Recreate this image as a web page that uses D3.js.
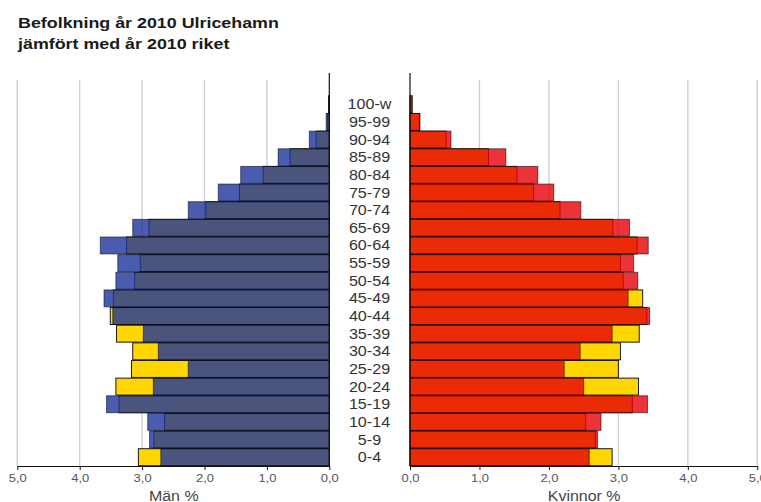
<!DOCTYPE html>
<html>
<head>
<meta charset="utf-8">
<script src="https://cdn.jsdelivr.net/npm/d3@7"></script>
<style>
  html, body { margin: 0; padding: 0; background: #fff; }
  svg { display: block; }
  text { font-family: "Liberation Sans", Arial, sans-serif; }
</style>
</head>
<body>
<svg id="chart" width="761" height="502"></svg>
<script>
// ---- data ----
const titleLines = ["Befolkning år 2010 Ulricehamn", "jämfört med år 2010 riket"];
const ages = ["0-4","5-9","10-14","15-19","20-24","25-29","30-34","35-39","40-44","45-49",
              "50-54","55-59","60-64","65-69","70-74","75-79","80-84","85-89","90-94","95-99","100-w"];
const menUlricehamn   = [2.70,2.88,2.91,3.57,2.82,2.26,2.74,2.98,3.47,3.61,3.42,3.39,3.67,3.15,2.26,1.78,1.42,0.82,0.32,0.05,0.01];
const menRiket        = [3.06,2.81,2.64,3.37,3.42,3.17,3.15,3.41,3.51,3.46,3.12,3.03,3.25,2.89,1.98,1.44,1.06,0.63,0.21,0.03,0.01];
const womenUlricehamn = [2.58,2.70,2.75,3.42,2.50,2.22,2.45,2.91,3.45,3.14,3.28,3.22,3.43,3.16,2.46,2.07,1.84,1.38,0.59,0.14,0.03];
const womenRiket      = [2.91,2.67,2.53,3.20,3.29,3.00,3.03,3.30,3.41,3.35,3.07,3.03,3.27,2.92,2.16,1.78,1.54,1.13,0.52,0.14,0.03];
const tickValues = [0, 1, 2, 3, 4, 5];
const axisTitles = ["Män %", "Kvinnor %"];

// ---- layout ----
const svg = d3.select("#chart");
const axisY = 466;
const xLeft  = d3.scaleLinear().domain([0, 5]).range([329.3, 17.3]);
const xRight = d3.scaleLinear().domain([0, 5]).range([410, 757.3]);
const y = d3.scaleBand().domain(ages).range([axisY, 95.5]).paddingInner(0.04).paddingOuter(0.02);
const fmt = d => d.toFixed(1).replace(".", ",");

function stretch(sel, k) {
  sel.each(function() {
    const w = this.getComputedTextLength();
    d3.select(this).attr("textLength", w * k).attr("lengthAdjust", "spacingAndGlyphs");
  });
}

// gridlines
function grid(x) {
  svg.append("g").selectAll("line").data(tickValues.filter(v => v > 0)).join("line")
    .attr("x1", d => x(d)).attr("x2", d => x(d))
    .attr("y1", 80).attr("y2", axisY)
    .attr("stroke", "#cfcfcf").attr("stroke-width", 1.4);
}
grid(xLeft); grid(xRight);

// bars
function side(x, riket, ulr, fillU, strokeU) {
  const data = ages.map((a, i) => ({ age: a, r: riket[i], u: ulr[i] }));
  const g = svg.append("g");
  g.selectAll("rect.riket").data(data).join("rect").attr("class", "riket")
    .attr("x", d => Math.min(x(0), x(d.r)))
    .attr("width", d => Math.abs(x(d.r) - x(0)))
    .attr("y", d => y(d.age))
    .attr("height", y.bandwidth())
    .attr("fill", "#ffd600")
    .attr("stroke", "#1a1a1a").attr("stroke-width", 1);
  g.selectAll("rect.ulr").data(data).join("rect").attr("class", "ulr")
    .attr("x", d => Math.min(x(0), x(d.u)))
    .attr("width", d => Math.abs(x(d.u) - x(0)))
    .attr("y", d => y(d.age))
    .attr("height", y.bandwidth())
    .attr("fill", fillU)
    .attr("stroke", strokeU).attr("stroke-width", 1);
}
side(xLeft, menRiket, menUlricehamn, "rgba(29,51,156,0.8)", "rgba(0,0,0,0.55)");
side(xRight, womenRiket, womenUlricehamn, "rgba(230,0,8,0.8)", "rgba(0,0,0,0.55)");

// zero lines
[xLeft, xRight].forEach(x => {
  svg.append("line").attr("x1", x(0)).attr("x2", x(0)).attr("y1", 73).attr("y2", axisY)
    .attr("stroke", "#111").attr("stroke-width", 1.2);
});

// axes
function axis(x, title) {
  const g = svg.append("g").attr("transform", `translate(0,${axisY})`)
    .call(d3.axisBottom(x).tickValues(tickValues).tickFormat(fmt).tickSize(4).tickSizeOuter(0));
  g.select(".domain").attr("stroke", "#111").attr("stroke-width", 1.2);
  g.selectAll(".tick line").attr("stroke", "#111");
  const t = g.selectAll(".tick text").attr("font-size", 11).attr("fill", "#555").attr("dy", null).attr("y", 16);
  stretch(t, 1.18);
  const at = svg.append("text")
    .attr("x", (x.range()[0] + x.range()[1]) / 2 + 0.5)
    .attr("y", 501)
    .attr("text-anchor", "middle")
    .attr("font-size", 14)
    .attr("fill", "#444")
    .text(title);
  stretch(at, 1.14);
}
axis(xLeft, axisTitles[0]);
axis(xRight, axisTitles[1]);

// age labels
const lab = svg.append("g").selectAll("text").data(ages).join("text")
  .attr("x", 369.5)
  .attr("y", d => y(d) + y.bandwidth() / 2 + 5)
  .attr("text-anchor", "middle")
  .attr("font-size", 14)
  .attr("fill", "#333")
  .text(d => d);
stretch(lab, 1.15);

// title
const tt = svg.append("g").selectAll("text").data(titleLines).join("text")
  .attr("x", 18)
  .attr("y", (d, i) => 27.5 + i * 21.5)
  .attr("font-size", 15)
  .attr("font-weight", "bold")
  .attr("fill", "#1a1a1a")
  .text(d => d);
stretch(tt, 1.19);
</script>
</body>
</html>
